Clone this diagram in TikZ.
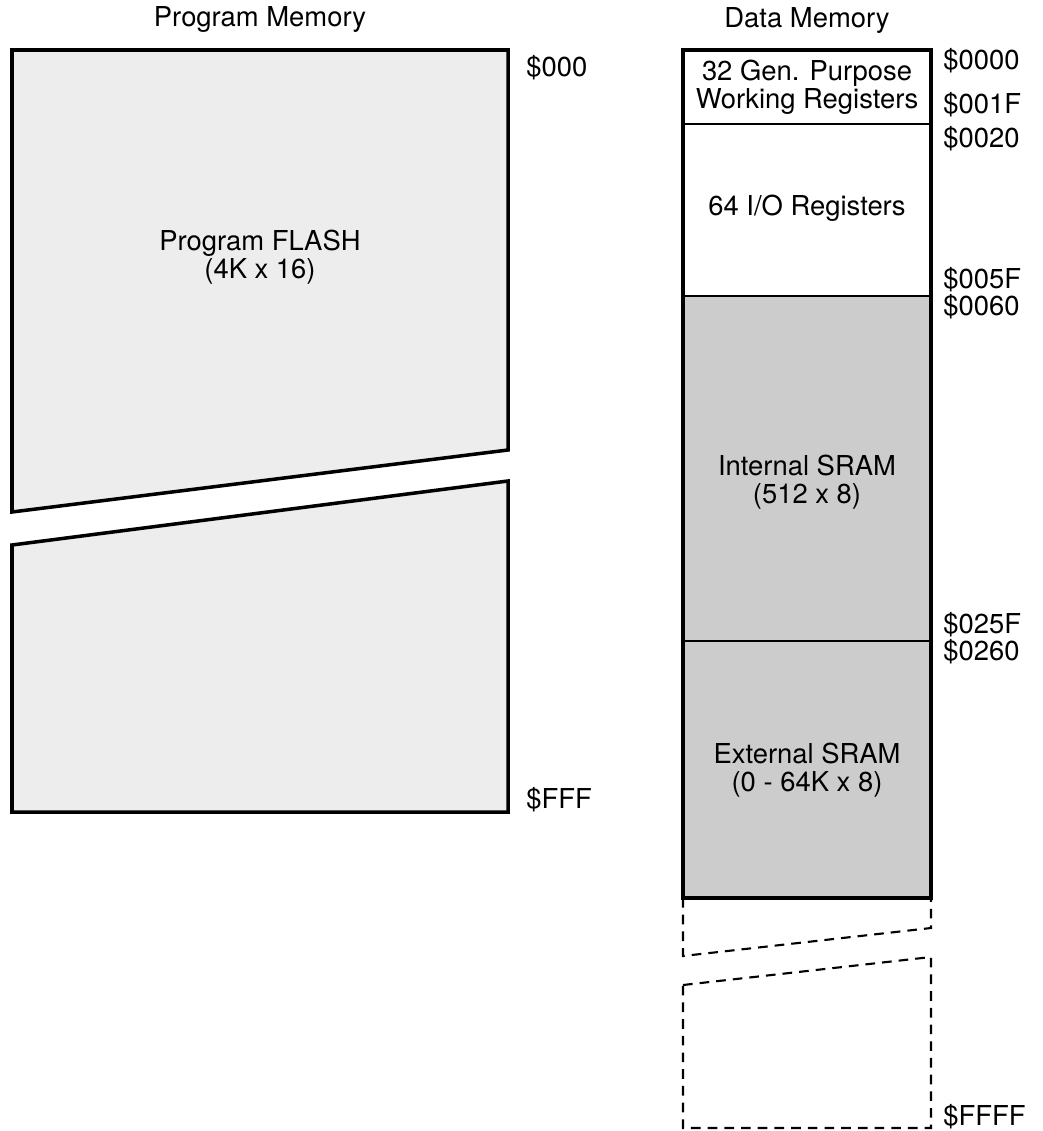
\documentclass[tikz,border=0pt]{standalone}
\usepackage{fontspec}
\setmainfont{TeX Gyre Heros}
\definecolor{flashgray}{HTML}{EDEDED}
\definecolor{sramgray}{HTML}{CCCCCC}

\begin{document}
\begin{tikzpicture}[x=0.02cm, y=-0.02cm,
        font=\fontsize{15.6}{16}\selectfont,
        border/.style={line width=2pt},
        divider/.style={line width=0.85pt},
        extmem/.style={line width=1.2pt, dash pattern=on 5.5pt off 4pt},
        addr/.style={anchor=west, inner sep=0pt},
        blocktext/.style={align=center, inner sep=0pt}]
        \useasboundingbox (0,0) rectangle (1042,1131);

        % Program memory
        \node[blocktext] (pmtitle) at (260,20) {Program Memory};
        \draw[border, fill=flashgray] (12,50) -- (508,50) -- (508,450) -- (12,512) -- cycle;
        \draw[border, fill=flashgray] (12,545) -- (508,481) -- (508,812) -- (12,812) -- cycle;
        \node[blocktext] (flash) at (260,257) {Program FLASH\\(4K x 16)};

        % Program addresses
        \node[addr] (p000) at (526,68) {\$000};
        \node[addr] (pfff) at (526,800) {\$FFF};

        % Data memory
        \node[blocktext] (dmtitle) at (807,21) {Data Memory};
        \fill[sramgray] (683,296) rectangle (931,898);
        \draw[divider] (683,124) -- (931,124);
        \draw[divider] (683,296) -- (931,296);
        \draw[divider] (683,641) -- (931,641);
        \draw[border] (683,50) rectangle (931,898);

        % External range, not populated
        \draw[extmem] (683,898) -- (683,956) -- (931,928) -- (931,898);
        \draw[extmem] (683,985) -- (931,957) -- (931,1128) -- (683,1128) -- cycle;

        % Block names
        \node[blocktext] (gpr) at (807,87) {32 Gen. Purpose\\Working Registers};
        \node[blocktext] (io) at (807,208) {64 I/O Registers};
        \node[blocktext] (isram) at (807,482) {Internal SRAM\\(512 x 8)};
        \node[blocktext] (esram) at (807,770) {External SRAM\\(0 - 64K x 8)};

        % Data addresses
        \node[addr] (d0000) at (943,61) {\$0000};
        \node[addr] (d001f) at (943,105) {\$001F};
        \node[addr] (d0020) at (943,139) {\$0020};
        \node[addr] (d005f) at (943,280) {\$005F};
        \node[addr] (d0060) at (943,307) {\$0060};
        \node[addr] (d025f) at (943,625) {\$025F};
        \node[addr] (d0260) at (943,652) {\$0260};
        \node[addr] (dffff) at (943,1117) {\$FFFF};
    \end{tikzpicture}
\end{document}
